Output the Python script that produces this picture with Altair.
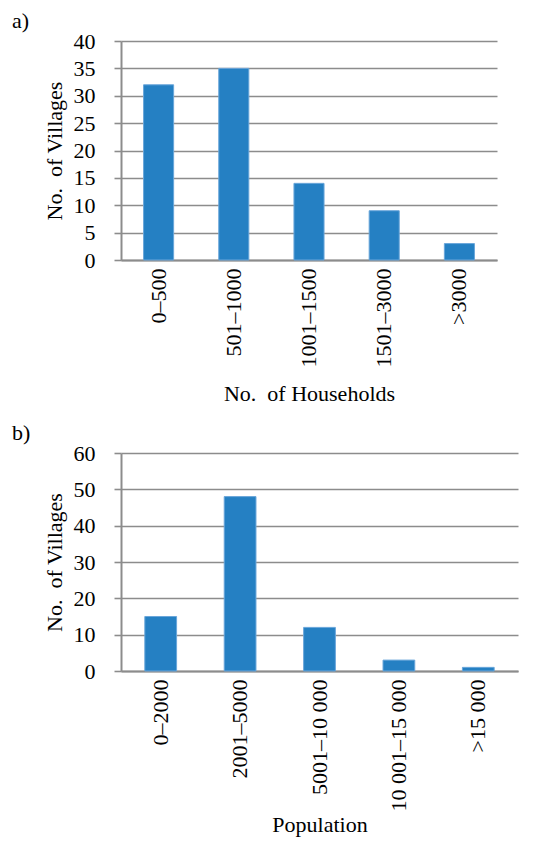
import altair as alt
import pandas as pd

hh_cats = ["0–500", "501–1000", "1001–1500", "1501–3000", ">3000"]
hh_vals = [32, 35, 14, 9, 3]

pop_cats = ["0–2000", "2001–5000", "5001–10 000", "10 001–15 000", ">15 000"]
pop_vals = [15, 48, 12, 3, 1]

FONT = "Liberation Serif"
GRID = "#8c8c8c"
BAR = "#2580c3"


def panel(cats, vals, xtitle, ymax, ystep, w, h, label, xtitlepad):
    df = pd.DataFrame({"cat": cats, "val": vals})
    bars = alt.Chart(df).mark_bar(color=BAR, stroke="#6aa6da", strokeWidth=1).encode(
        x=alt.X(
            "cat:N",
            sort=cats,
            title=xtitle,
            scale=alt.Scale(paddingInner=0.6, paddingOuter=0.3),
            axis=alt.Axis(
                labelAngle=-90,
                ticks=False,
                domainColor=GRID,
                domainWidth=2,
                labelPadding=8,
                titlePadding=xtitlepad,
            ),
        ),
        y=alt.Y(
            "val:Q",
            title="No.\u2002of Villages",
            scale=alt.Scale(domain=[0, ymax], nice=False),
            axis=alt.Axis(
                values=list(range(0, ymax + 1, ystep)),
                grid=True,
                gridColor=GRID,
                gridWidth=1.6,
                tickColor=GRID,
                tickWidth=1.6,
                tickSize=7,
                domainColor=GRID,
                domainWidth=2,
                labelPadding=19,
                titlePadding=7,
            ),
        ),
    )
    lab = alt.Chart(pd.DataFrame({"t": [label]})).mark_text(
        align="left", baseline="middle", fontSize=22, font=FONT, color="black"
    ).encode(text="t:N", x=alt.value(-109), y=alt.value(-20))
    return alt.layer(bars, lab).properties(width=w, height=h)


a = panel(hh_cats, hh_vals, "No.\u2002of Households", 40, 5, 376, 219, "a)", 16)
b = panel(pop_cats, pop_vals, "Population", 60, 10, 397, 218, "b)", 3)

chart = (
    alt.vconcat(a, b, spacing=18)
    .properties(padding={"left": 4, "top": 2, "right": 5, "bottom": 5})
    .configure_view(stroke=None)
    .configure_axis(
        labelFont=FONT,
        titleFont=FONT,
        labelFontSize=22,
        titleFontSize=22,
        labelColor="black",
        titleColor="black",
        titleFontWeight="normal",
    )
)

chart.save("out.html", embed_options={"renderer": "svg", "actions": False})
